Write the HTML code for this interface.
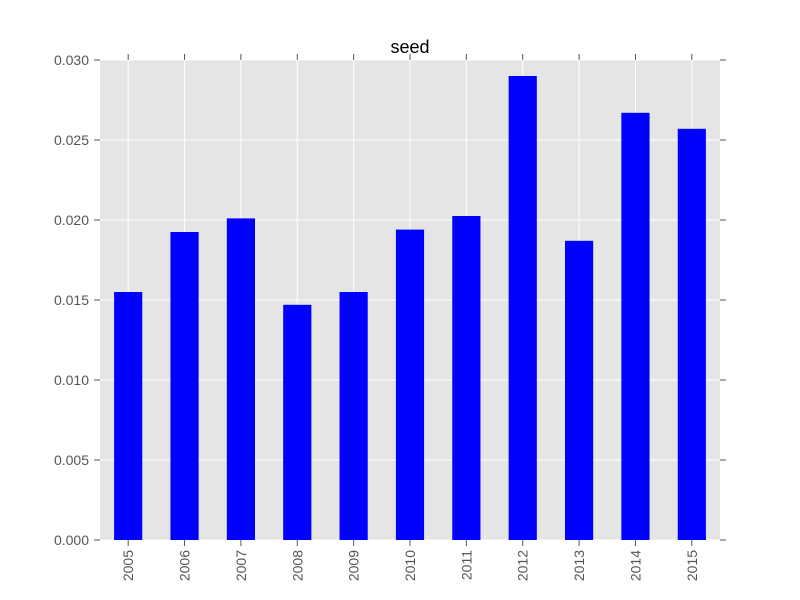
<!DOCTYPE html>
<html><head><meta charset="utf-8"><style>
body{margin:0;background:#fff;}
svg{display:block;font-family:"Liberation Sans","DejaVu Sans",sans-serif;}
</style></head><body>
<svg id="chart" width="800" height="600">
<rect x="0" y="0" width="800" height="600" fill="#fff"/>
<rect x="100" y="60" width="620" height="480" fill="#e5e5e5"/>
<g id="grid"></g><g id="bars"></g><g id="axes"></g>
<text x="410" y="53" font-size="18" text-anchor="middle" fill="#000">seed</text>
<text x="410" y="610" font-size="16" text-anchor="middle" fill="#555">year</text>
</svg>
<script>
const categories=["2005","2006","2007","2008","2009","2010","2011","2012","2013","2014","2015"];
const values=[0.0155,0.01925,0.0201,0.0147,0.0155,0.0194,0.02025,0.0290,0.0187,0.0267,0.0257];
const yTicks=[0,0.005,0.010,0.015,0.020,0.025,0.030];
const yTickLabels=["0.000","0.005","0.010","0.015","0.020","0.025","0.030"];
const NS="http://www.w3.org/2000/svg";
const L=100,R=720,T=60,B=540,yMax=0.03;
const y=v=>B-(v/yMax)*(B-T);
const step=(R-L)/categories.length;
const xc=i=>L+step*(i+0.5);
const bw=step*0.5;
function mk(tag,attrs,parent){const e=document.createElementNS(NS,tag);for(const k in attrs)e.setAttribute(k,attrs[k]);document.getElementById(parent).appendChild(e);return e;}
yTicks.forEach((t,i)=>{
 const g=mk("line",{x1:L,x2:R,y1:y(t),y2:y(t),stroke:"#fff","stroke-width":1},"grid");
 
 
 const tl=mk("line",{x1:L-6,x2:L,y1:y(t),y2:y(t),stroke:"#555"},"axes");
 
 
 const tr=mk("line",{x1:R,x2:R+6,y1:y(t),y2:y(t),stroke:"#555"},"axes");
 
 
 const lb=mk("text",{x:L-11,y:y(t)+5,"font-size":14,"text-anchor":"end",fill:"#555"},"axes");
 lb.textContent=yTickLabels[i];
 
 
});
categories.forEach((c,i)=>{
 const x=xc(i);
 const g=mk("line",{x1:x,x2:x,y1:T,y2:B,stroke:"#fff"},"grid");
 
 
 const r=mk("rect",{x:x-bw/2,y:y(values[i]),width:bw,height:B-y(values[i]),fill:"#0000ff"},"bars");
 
 
 const tb=mk("line",{x1:x,x2:x,y1:B,y2:B+6,stroke:"#555"},"axes");
 
 
 const tt=mk("line",{x1:x,x2:x,y1:T-6,y2:T,stroke:"#555"},"axes");
 
 
 const lb=mk("text",{x:0,y:0,"font-size":14,"text-anchor":"end",fill:"#555",transform:`translate(${x+5},${B+10}) rotate(-90)`},"axes");
 lb.textContent=c;
 
 
});
</script>
</body></html>
